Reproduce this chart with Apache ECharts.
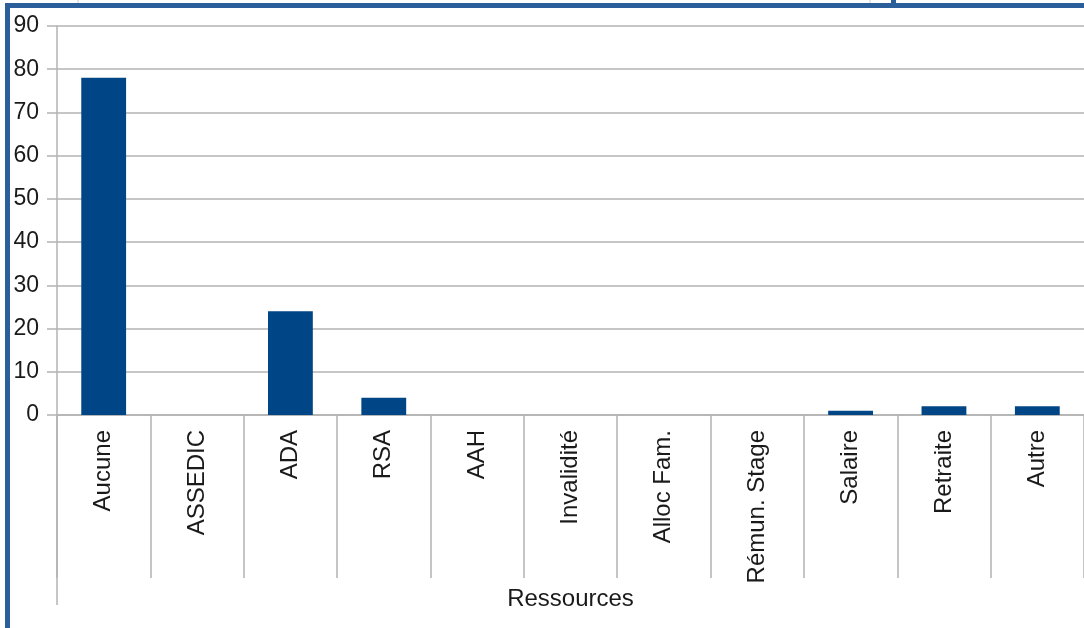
<!DOCTYPE html>
<html>
<head>
<meta charset="utf-8">
<script src="https://cdn.jsdelivr.net/npm/echarts@6/dist/echarts.min.js"></script>
<style>
  html, body { margin: 0; padding: 0; background: #fff; }
  #chart { width: 1084px; height: 628px; }
</style>
</head>
<body>
<div id="chart"></div>
<script>
const categories = ['Aucune', 'ASSEDIC', 'ADA', 'RSA', 'AAH', 'Invalidité', 'Alloc Fam.', 'Rémun. Stage', 'Salaire', 'Retraite', 'Autre'];
const values = [78, 0, 24, 4, 0, 0, 0, 0, 1, 2, 2];
const yTicks = { min: 0, max: 90, step: 10 };

const chart = echarts.init(document.getElementById('chart'));
const grey = '#b3b3b3';
const font = '"Liberation Sans", Arial, sans-serif';

const option = {
  animation: false,
  grid: { left: 57, top: 26, width: 1030, height: 389, containLabel: false },
  xAxis: {
    type: 'category',
    data: categories,
    name: 'Ressources',
    nameLocation: 'middle',
    nameGap: 172,
    nameMoveOverlap: false,
    nameTextStyle: { fontFamily: font, fontSize: 24, color: '#1a1a1a', verticalAlign: 'top' },
    axisLine: { show: true, lineStyle: { color: grey, width: 1.5 } },
    axisTick: { show: true, interval: 0, length: 163, lineStyle: { color: grey, width: 1.5 } },
    axisLabel: { interval: 0, rotate: 90, margin: 15, fontFamily: font, fontSize: 24, color: '#1a1a1a' }
  },
  yAxis: {
    type: 'value',
    min: yTicks.min,
    max: yTicks.max,
    interval: yTicks.step,
    axisLine: { show: true, lineStyle: { color: grey, width: 1.5 } },
    axisTick: { show: true, length: 10, lineStyle: { color: grey, width: 1.5 } },
    axisLabel: { margin: 18, fontFamily: font, fontSize: 23, color: '#1a1a1a' },
    splitLine: { show: true, lineStyle: { color: grey, width: 1.5 } }
  },
  series: [{
    type: 'bar',
    data: values,
    barWidth: '48%',
    itemStyle: { color: '#004586' }
  }],
  graphic: [
    { type: 'line', shape: { x1: 57, y1: 415, x2: 57, y2: 605 }, style: { stroke: grey, lineWidth: 1.5 } },
    { type: 'rect', shape: { x: 5, y: 3, width: 1079, height: 5 }, style: { fill: '#2b5f9c' } },
    { type: 'rect', shape: { x: 5, y: 3, width: 5, height: 625 }, style: { fill: '#2b5f9c' } },
    { type: 'line', shape: { x1: 78, y1: 0, x2: 78, y2: 3 }, style: { stroke: '#ccc', lineWidth: 1 } },
    { type: 'line', shape: { x1: 870, y1: 0, x2: 870, y2: 3 }, style: { stroke: '#ccc', lineWidth: 1 } },
    { type: 'rect', shape: { x: 891, y: 0, width: 5, height: 4 }, style: { fill: '#2b5f9c' } }
  ]
};

chart.setOption(option);
</script>
</body>
</html>
